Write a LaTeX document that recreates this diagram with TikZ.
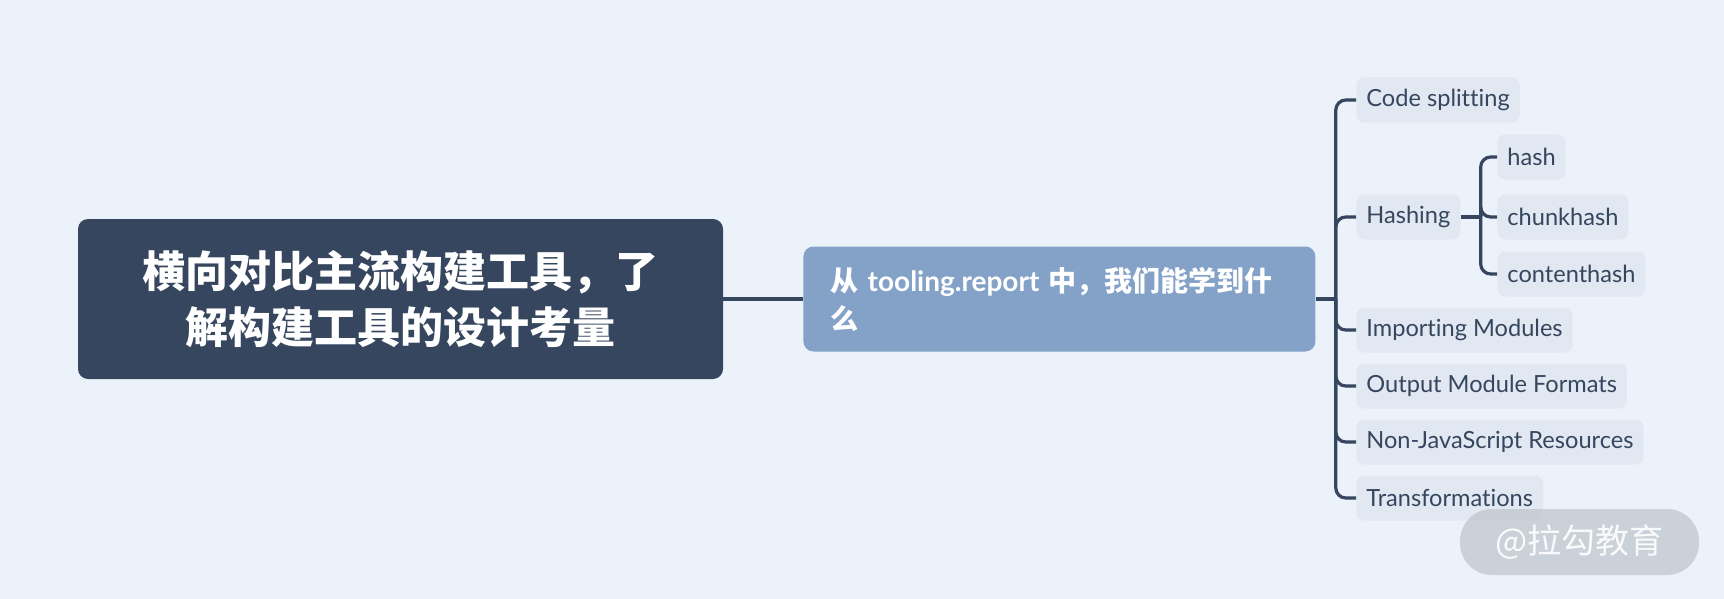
\documentclass[tikz,border=0pt]{standalone}
\usepackage{fontspec}
\setmainfont{Lato}[Ligatures=NoCommon]
\newfontfamily\cjk{Noto Sans CJK SC}
\usetikzlibrary{positioning}
\definecolor{paper}{RGB}{235,242,250}
\definecolor{slate}{RGB}{53,70,94}
\definecolor{steel}{RGB}{132,162,200}
\definecolor{mist}{RGB}{225,232,241}
\definecolor{ash}{RGB}{190,196,202}

\begin{document}
\begin{tikzpicture}[x=0.5pt,y=-0.5pt,
    branch/.style={draw=slate,line width=1.6pt,rounded corners=5pt},
    leaf/.style={fill=mist,text=slate,rounded corners=4pt,anchor=west,minimum height=22.5pt,
      inner xsep=5pt,inner ysep=0pt,font=\fontsize{11.8}{13}\selectfont}]
    \fill[paper] (0,0) rectangle (1724,599);
    \node[fill=slate,text=white,rounded corners=5pt,minimum width=322.5pt,minimum height=80pt,align=center,
      font=\cjk\bfseries\fontsize{21.5}{28}\selectfont] (root) at (400.5,299) {横向对比主流构建工具，了\\解构建工具的设计考量};
    \node[fill=steel,text=white,rounded corners=5pt,anchor=west,minimum height=52.5pt,text width=229pt,
      inner xsep=13.5pt,align=left,font=\bfseries\fontsize{14}{19}\selectfont] (mid) at (803,299)
      {{\cjk 从} tooling.report {\cjk 中，我们能学到什}\\{\cjk 么}};
    \draw[slate,line width=2pt] (root.east) -- (mid.west);
    \coordinate (tr) at ([xshift=10pt]mid.east);
    \draw[branch] (mid.east) -- (tr);
    \foreach \t/\y [count=\i] in {Code splitting/100,Hashing/217,Importing Modules/330,
      Output Module Formats/386,Non-JavaScript Resources/442,Transformations/498}
    {
      \node[leaf] (c\i) at (1356,\y) {\t};
      \draw[branch] (tr) |- (c\i.west);
    }
    \coordinate (hs) at ([xshift=10pt]c2.east);
    \draw[branch] (c2.east) -- (hs);
    \foreach \t/\y [count=\i] in {hash/157,chunkhash/217,contenthash/274}
    {
      \node[leaf] (h\i) at (1497,\y) {\t};
      \draw[branch] (hs) |- (h\i.west);
    }
    \node[fill=ash,fill opacity=0.7,text opacity=0.9,text=white,rounded corners=16pt,minimum width=119.5pt,
      minimum height=33pt,font=\cjk\fontsize{17}{17}\selectfont] (wm) at (1579.5,542) {@拉勾教育};
  \end{tikzpicture}
\end{document}
